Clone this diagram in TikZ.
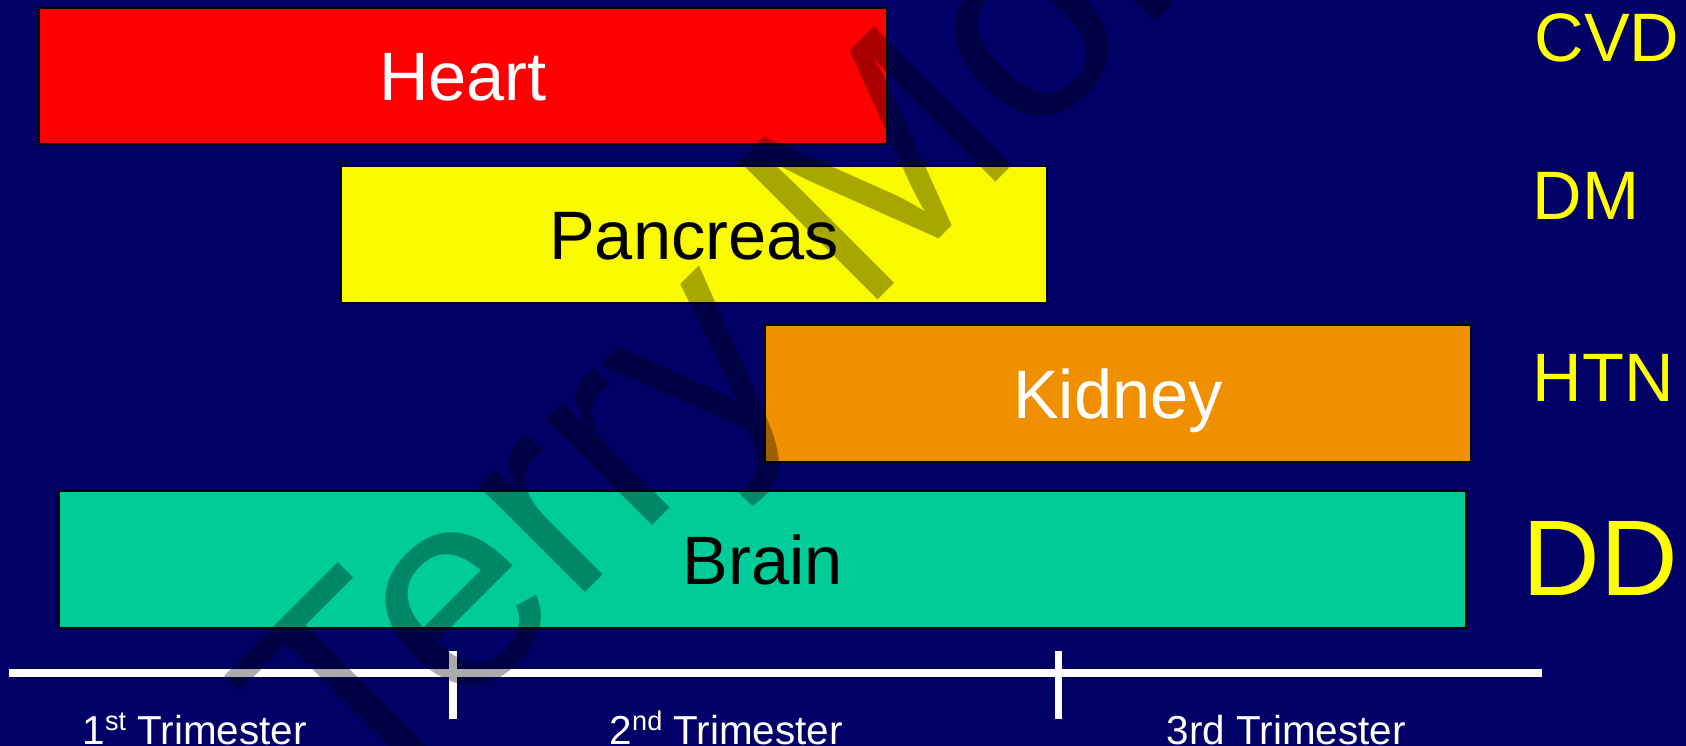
\documentclass[tikz,border=0pt]{standalone}
\usepackage{fontspec}
\setmainfont{Liberation Sans}
\definecolor{navy}{RGB}{0,0,102}
\definecolor{boxred}{RGB}{255,0,0}
\definecolor{boxyellow}{RGB}{250,250,0}
\definecolor{boxorange}{RGB}{240,144,0}
\definecolor{boxteal}{RGB}{0,204,153}
\definecolor{labyellow}{RGB}{255,255,0}
\newcommand\fsz[1]{\fontsize{#1}{#1}\selectfont}
\newcommand\supr[1]{\raisebox{0.34em}{\fsz{7.7}#1}}
\begin{document}
\begin{tikzpicture}[x=0.01cm,y=-0.01cm,
  organ/.style={draw=black, line width=0.7pt, inner sep=0pt,
    text height=13.96pt, text depth=0pt, font=\fsz{19.5}},
  risk/.style={anchor=base west, inner sep=0pt, text=labyellow, font=\fsz{19.5}},
  trilabel/.style={anchor=base west, inner sep=0pt, text=white, font=\fsz{11.5}},
  axisline/.style={draw=white, line width=2.28pt},
  tickline/.style={draw=white, line width=2pt},
  wmark/.style={anchor=base west, inner sep=0pt, rotate=45, text=black,
    text opacity=0.33, font=\fsz{81}}]
\useasboundingbox (0,0) rectangle (1686,746);
\fill[navy] (0,0) rectangle (1686,746);
\clip (0,0) rectangle (1686,746);
% organ bars
\node[organ, fill=boxred, text=white, minimum width=8.48cm, minimum height=1.36cm] (heart) at (463,76) {Heart};
\node[organ, fill=boxyellow, text=black, minimum width=7.06cm, minimum height=1.37cm] (pancreas) at (694,234.5) {Pancreas};
\node[organ, fill=boxorange, text=white, minimum width=7.06cm, minimum height=1.37cm] (kidney) at (1118,393.5) {Kidney};
\node[organ, fill=boxteal, text=black, minimum width=14.07cm, minimum height=1.37cm] (brain) at (762.5,559.5) {Brain};
% risk labels
\node[risk] (cvd) at (1534,61.7) {CVD};
\node[risk] (dm) at (1532,220) {DM};
\node[risk] (htn) at (1532,401.7) {HTN};
\node[risk, font=\fsz{30.6}] (dd) at (1522,595) {DD};
% time axis
\coordinate (axL) at (8.6,673);
\coordinate (axR) at (1542,673);
\coordinate (tAtop) at (453,651);
\coordinate (tAbot) at (453,719);
\coordinate (tBtop) at (1058,651);
\coordinate (tBbot) at (1058,719);
\draw[axisline] (axL) -- (axR);
\draw[tickline] (tAtop) -- (tAbot);
\draw[tickline] (tBtop) -- (tBbot);
\node[trilabel] (tri1) at (82,744) {1\supr{st} Trimester};
\node[trilabel] (tri2) at (609,744) {2\supr{nd} Trimester};
\node[trilabel] (tri3) at (1166,744) {3rd Trimester};
% watermark
\node[wmark] (wm) at (358,820) {Terry Mor};
\end{tikzpicture}
\end{document}
